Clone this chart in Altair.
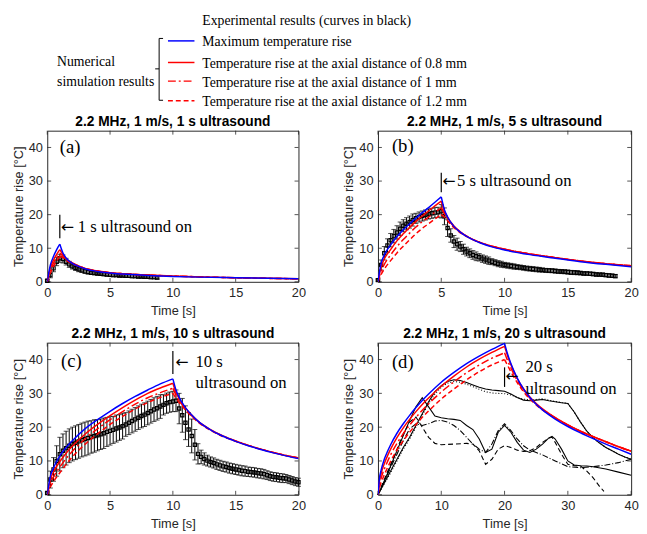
import altair as alt
import pandas as pd

SANS = "Liberation Sans"
SERIF = "Liberation Serif"
ARROWFONT = "DejaVu Sans"
AX = "#262626"

# ---------------- legend ----------------
LEG_LABELS = ["Experimental results (curves in black)", "Maximum temperature rise",
              "Temperature rise at the axial distance of 0.8 mm",
              "Temperature rise at the axial distance of 1 mm",
              "Temperature rise at the axial distance of 1.2 mm"]
GROUP_LABELS = ["Numerical", "simulation results"]

SIM_COLORS = ["#0000ff", "#ff0000", "#ff0000", "#ff0000"]
SIM_DASH = [None, None, [8, 3, 2, 3], [5, 3]]

# ---------------- panel (a): 1 s ----------------
a_sim_t = [0, 0.25, 0.5, 0.75, 1, 1.25, 1.5, 2, 2.5, 3, 4, 5, 6, 8, 10, 12, 15, 20]
a_peak = 4
a_max = [0, 5, 7.6, 9.6, 11.2, 8.6, 7.1, 5.5, 4.6, 3.9, 3.1, 2.6, 2.3, 1.9, 1.6, 1.4, 1.2, 0.9]
a_08 = [0, 4.2, 6.5, 8.2, 9.6, 8.1, 6.9, 5.6, 4.7, 4.0, 3.2, 2.7, 2.4, 2.0, 1.7, 1.5, 1.2, 0.9]
a_10 = [0, 3.4, 5.6, 7.2, 8.6, 7.7, 6.7, 5.5, 4.7, 4.0, 3.2, 2.7, 2.4, 2.0, 1.7, 1.5, 1.2, 0.9]
a_12 = [0, 2.6, 4.6, 6.2, 7.6, 7.2, 6.4, 5.4, 4.6, 4.0, 3.2, 2.7, 2.4, 2.0, 1.7, 1.5, 1.2, 0.9]
a_exp_v = [0.3, 2, 4, 6, 7, 6.8, 6, 5.2, 4.6, 4.1, 3.7, 3.4, 3.1, 2.9, 2.7, 2.6, 2.5, 2.4,
           2.3, 2.2, 2.1, 2.0, 2.0, 1.9, 1.9, 1.8, 1.8, 1.7, 1.7, 1.6, 1.6, 1.5, 1.5, 1.4, 1.4, 1.3]
a_exp_e = [0.3, 0.8, 1, 1.2, 1.2, 1.2, 1, 0.9, 0.8, 0.7, 0.7, 0.6, 0.6, 0.6, 0.5, 0.5, 0.5, 0.5,
           0.5, 0.5, 0.5, 0.5, 0.5, 0.5, 0.5, 0.5, 0.5, 0.5, 0.5, 0.5, 0.5, 0.5, 0.5, 0.5, 0.5, 0.5]

# ---------------- panel (b): 5 s ----------------
b_sim_t = [0, 0.25, 0.5, 1, 1.5, 2, 2.5, 3, 3.5, 4, 4.5, 5, 5.25, 5.5, 6, 6.5, 7, 8, 9, 10, 12, 14, 16, 18, 20]
b_peak = 11
b_max = [0, 5.5, 8, 11, 13.5, 15.5, 17.3, 19, 20.6, 22.1, 23.7, 25.3, 21.5, 19.3, 16.5, 14.8, 13.5, 11.7, 10.4, 9.5, 8.1, 7.0, 6.0, 5.2, 4.5]
b_08 = [0, 4.5, 6.8, 9.6, 12.2, 14.3, 16.2, 18.0, 19.6, 21.1, 22.6, 24.0, 21.0, 19.2, 16.6, 14.9, 13.6, 11.8, 10.6, 9.7, 8.3, 7.2, 6.2, 5.4, 4.8]
b_10 = [0, 3.2, 5.2, 8.0, 10.5, 12.6, 14.5, 16.3, 17.9, 19.3, 20.7, 22.0, 20.2, 18.8, 16.4, 14.8, 13.6, 11.8, 10.6, 9.7, 8.3, 7.2, 6.2, 5.4, 4.8]
b_12 = [0, 2.2, 3.8, 6.3, 8.6, 10.6, 12.5, 14.3, 15.9, 17.3, 18.7, 20.0, 19.3, 18.2, 16.1, 14.6, 13.5, 11.8, 10.6, 9.7, 8.3, 7.2, 6.2, 5.4, 4.8]
b_exp_v = [0.5, 5, 8.5, 10.8, 12.4, 13.6, 14.7, 15.8, 16.7, 17.3, 17.8, 18.4, 18.9, 19.3, 19.6, 19.9,
           20.2, 20.4, 20.6, 20.7, 21, 19.5, 16, 13.8, 12, 11.2, 10.5, 9.7, 9, 8.5, 8, 7.6,
           7.3, 6.9, 6.6, 6.3, 6, 5.7, 5.4, 5.2, 5, 4.85, 4.7, 4.55, 4.4, 4.3, 4.15, 4.0,
           3.9, 3.8, 3.7, 3.6, 3.5, 3.4, 3.35, 3.3, 3.2, 3.1, 3.05, 3.0, 2.9, 2.8, 2.75, 2.7,
           2.6, 2.5, 2.45, 2.4, 2.3, 2.2, 2.15, 2.1, 2.0, 1.9, 1.8, 1.7]
b_exp_e = [0.3, 1.5, 2, 2, 2, 2, 2, 2, 1.8, 1.8, 1.8, 1.8, 1.5, 1.5, 1.5, 1.5,
           1.5, 1.5, 1.5, 1.5, 2, 2.5, 2.5, 2, 1.8, 1.8, 1.5, 1.5, 1.3, 1.3, 1.3, 1.3,
           1.1, 1.1, 1.1, 1.1, 0.9, 0.9, 0.9, 0.9, 0.8, 0.8, 0.8, 0.8, 0.7, 0.7, 0.7, 0.7,
           0.7, 0.7, 0.7, 0.7, 0.6, 0.6, 0.6, 0.6, 0.6, 0.6, 0.6, 0.6, 0.6, 0.6, 0.6, 0.6,
           0.5, 0.5, 0.5, 0.5, 0.5, 0.5, 0.5, 0.5, 0.5, 0.5, 0.5, 0.5]

# ---------------- panel (c): 10 s ----------------
c_sim_t = [0, 0.25, 0.5, 1, 1.5, 2, 3, 4, 5, 6, 7, 8, 9, 10, 10.25, 10.5, 11, 11.5, 12, 13, 14, 15, 16, 17, 18, 19, 20]
c_peak = 13
c_max = [0, 5.5, 8, 11.5, 14, 16, 19.5, 22.2, 24.7, 27, 29.1, 31, 32.8, 34.3, 31, 28.8, 25.8, 23.6, 21.8, 19.2, 17.3, 15.8, 14.5, 13.4, 12.4, 11.5, 10.7]
c_08 = [0, 4.5, 6.8, 9.8, 12.3, 14.4, 17.9, 20.8, 23.4, 25.8, 28, 30, 31.6, 33.0, 30.3, 28.4, 25.7, 23.6, 21.8, 19.3, 17.4, 15.9, 14.6, 13.5, 12.5, 11.6, 10.9]
c_10 = [0, 3.3, 5.3, 8.2, 10.7, 12.9, 16.5, 19.5, 22.2, 24.6, 26.8, 28.7, 30.2, 31.5, 29.5, 27.9, 25.4, 23.4, 21.7, 19.2, 17.3, 15.9, 14.6, 13.5, 12.5, 11.6, 10.9]
c_12 = [0, 2.3, 3.9, 6.5, 9.0, 11.2, 14.9, 18.0, 20.8, 23.2, 25.4, 27.3, 28.8, 30.0, 28.6, 27.3, 25.1, 23.2, 21.5, 19.1, 17.2, 15.8, 14.6, 13.5, 12.5, 11.6, 10.9]
c_exp_v = [0.5, 4.5, 7.5, 10, 12, 13, 13.8, 14.5, 15, 15.4, 15.8, 16.2, 16.5, 16.8, 17.1, 17.4,
           17.6, 17.9, 18.2, 18.6, 18.9, 19.2, 19.6, 19.9, 20.3, 20.8, 21.3, 21.8, 22.3, 22.8, 23.3, 23.7,
           24.2, 24.7, 25.2, 25.6, 26.1, 26.6, 27.1, 27.4, 27.6, 27.8, 25.5, 23.5, 21.3, 19.3, 17.4, 14.8,
           12.1, 11.2, 10.6, 10.1, 9.7, 9.4, 9.0, 8.7, 8.4, 8.2, 7.9, 7.7, 7.5, 7.3, 7.1, 7.0,
           6.8, 6.7, 6.6, 6.4, 6.3, 6.1, 5.8, 5.5, 5.3, 5.2, 5.0, 4.9, 4.8, 4.5, 4.2, 3.9, 3.7]
c_exp_e = [0.3, 2.5, 3.5, 4.5, 5, 5, 5, 5, 5, 5, 5, 5, 5, 5, 4.8, 4.8,
           4.6, 4.5, 4.5, 4.3, 4.2, 4, 4, 3.8, 3.8, 3.5, 3.5, 3.5, 3.5, 3.5, 3.5, 3.5,
           3.5, 3.5, 3.5, 3.5, 3.5, 3, 3, 3, 3, 3.2, 4.5, 5, 5, 5, 5, 4.5,
           3, 2, 1.8, 1.6, 1.5, 1.5, 1.5, 1.5, 1.5, 1.5, 1.5, 1.5, 1.5, 1.5, 1.5, 1.5,
           1.4, 1.4, 1.4, 1.4, 1.4, 1.4, 1.3, 1.3, 1.3, 1.3, 1.3, 1.3, 1.2, 1.2, 1.2, 1.2, 1.2]

# ---------------- panel (d): 20 s ----------------
d_sim_t = [0, 0.25, 0.5, 1, 1.5, 2, 3, 4, 5, 6, 7, 8, 10, 12, 14, 16, 18, 20, 20.5, 21, 22, 23, 24, 25, 26, 28, 30, 32, 34, 36, 38, 40]
d_peak = 17
d_max = [0, 5, 7.3, 10.5, 12.8, 14.8, 18.2, 21, 23.5, 25.8, 27.9, 29.8, 33.3, 36.2, 38.8, 41.0, 43.0, 44.8, 41.5, 38.8, 34.5, 31.3, 28.8, 26.8, 25.1, 22.4, 20.2, 18.3, 16.6, 15.0, 13.5, 12.0]
d_08 = [0, 4.2, 6.3, 9.2, 11.5, 13.5, 16.9, 19.8, 22.3, 24.6, 26.7, 28.6, 32.1, 35.1, 37.8, 40.1, 42.1, 43.9, 41.0, 38.5, 34.4, 31.3, 28.9, 27.0, 25.4, 22.8, 20.7, 18.8, 17.2, 15.7, 14.2, 12.9]
d_10 = [0, 3.1, 4.9, 7.6, 9.8, 11.8, 15.2, 18.1, 20.6, 22.9, 25.0, 26.9, 30.4, 33.4, 36.1, 38.4, 40.4, 42.0, 39.6, 37.5, 33.8, 30.9, 28.6, 26.8, 25.3, 22.8, 20.7, 18.8, 17.2, 15.7, 14.2, 12.9]
d_12 = [0, 2.2, 3.6, 5.9, 8.0, 9.9, 13.2, 16.0, 18.5, 20.8, 22.9, 24.8, 28.3, 31.3, 34.0, 36.4, 38.4, 40.0, 38.2, 36.4, 33.2, 30.5, 28.3, 26.6, 25.1, 22.7, 20.6, 18.8, 17.2, 15.7, 14.2, 12.9]

d1_t = list(range(0, 41))
d1_v = [0, 3.5, 7, 10.5, 14, 17, 20.5, 24, 27.5, 30.5, 32.3, 33.5, 34, 33.8, 33.2, 32.5, 31.8, 31.3, 31, 30.8,
        30.6, 29.8, 28.8, 28, 27.8, 28, 28.2, 27.8, 27.5, 27.2, 27, 24.5, 21.5, 18.8, 16.8, 15.3, 14, 13, 12, 11.2, 10.5]
d1b_v = [0, 3.2, 6.5, 10, 13.5, 16.5, 20, 23.5, 27, 29.8, 31.8, 33, 33.5, 33.3, 32.7, 32, 31.2, 30.5, 30.1, 30,
         29.9, 29.5, 28.8, 28.3, 28, 28.2, 28.4, 28, 27.6, 27.3, 27, 24.5, 21.5, 18.8, 16.8, 15.3, 14, 13, 12, 11.2, 10.5]
d2_t = [0, 1, 2, 3, 4, 5, 6, 7, 8, 9, 10, 11, 12, 13, 14, 15, 16, 17, 18, 19, 20, 21, 22, 23, 24, 25, 26, 27,
        27.5, 28, 29, 30, 31, 32, 33, 34, 36, 38, 40]
d2_v = [0, 4, 8.5, 13, 17.5, 22, 26, 28.7, 26, 23.3, 22.8, 22.5, 22.3, 22, 20.5, 19.3, 16.5, 12.5, 13.5, 18.5,
        20.5, 18.5, 15.5, 13.2, 12.5, 13.5, 15, 16.8, 17.3, 16.5, 13.5, 10, 8.8, 8.6, 8.5, 8.3, 7.6, 6.7, 5.8]
d3_t = [0, 1, 2, 3, 4, 5, 6, 7, 8, 9, 10, 12, 14, 15, 16, 17, 18, 19, 20, 21, 22, 23, 24, 25, 26, 27, 27.5,
        28, 29, 30, 31, 32, 33, 34, 35, 35.7]
d3_v = [0, 4.5, 9, 13.5, 18, 21.5, 23, 20, 17, 15.2, 14.8, 15, 15.2, 15, 13, 9, 10.5, 13.5, 14.5, 14, 13.2,
        12.8, 13, 14, 15.5, 16.8, 17, 15.5, 12, 9, 8.6, 8.5, 7, 5, 2.5, 1]
d4_t = [0, 1, 2, 3, 4, 5, 6, 7, 8, 9, 10, 11, 12, 13, 14, 15, 16, 17, 18, 19, 20, 21, 22, 23, 24, 25, 26,
        28, 30, 32, 34, 36, 38, 40]
d4_v = [0, 4, 8, 12, 16, 19.5, 21, 20.5, 21, 21.8, 22, 21.5, 20.5, 19, 17, 15, 13.5, 12.5, 15, 19, 21, 19,
        16.5, 14.5, 13.2, 12.5, 11.8, 10, 8.3, 8, 8.3, 8.8, 9.5, 10.5]

Y_TICKS = [0, 10, 20, 30, 40]


def one_row():
    return alt.Chart(pd.DataFrame({"k": [0]}))


def legend_layers():
    """Legend block drawn above panel (a), positioned in pixels relative to its plot area."""
    layers = []
    leg_y = [-112, -90, -68, -49, -29]
    for txt, yy in zip(LEG_LABELS, leg_y):
        layers.append(one_row().mark_text(align="left", baseline="middle", font=SERIF, fontSize=14,
                                          color="black").encode(
            x=alt.value(158), y=alt.value(yy), text=alt.value(txt)))
    for txt, yy in zip(GROUP_LABELS, [-70, -50]):
        layers.append(one_row().mark_text(align="left", baseline="middle", font=SERIF, fontSize=14,
                                          color="black").encode(
            x=alt.value(10), y=alt.value(yy), text=alt.value(txt)))
    for yy, col, dash in zip(leg_y[1:], SIM_COLORS, SIM_DASH):
        mk = dict(color=col, strokeWidth=1.5)
        if dash is not None:
            mk["strokeDash"] = dash
        layers.append(one_row().mark_rule(**mk).encode(
            x=alt.value(123), x2=alt.value(150), y=alt.value(yy - 1.5), y2=alt.value(yy - 1.5)))
    for x1, x2, y1, y2 in [(114, 114, -94, -31), (114, 118, -94, -94), (114, 118, -31, -31),
                           (110, 114, -63, -63)]:
        layers.append(one_row().mark_rule(color="black", strokeWidth=1).encode(
            x=alt.value(x1), x2=alt.value(x2), y=alt.value(y1), y2=alt.value(y2)))
    return layers


def panel(title, xmax, xticks, sim_t, peak, sims, exp_v=None, exp_e=None, black=None,
          vline=None, arrow=None, texts=None, label=None, w=256, h=155, extra=None):
    xs = alt.Scale(domain=[0, xmax], nice=False)
    ys = alt.Scale(domain=[0, 45], nice=False)
    axx = alt.Axis(values=xticks, title="Time [s]")
    axy = alt.Axis(values=Y_TICKS, title="Temperature rise [°C]")

    def X(f="t"):
        return alt.X(f"{f}:Q", scale=xs, axis=axx)

    def Y(f="v"):
        return alt.Y(f"{f}:Q", scale=ys, axis=axy)

    layers = []
    # inner ticks (MATLAB box style)
    xt = pd.DataFrame({"t": xticks})
    yt = pd.DataFrame({"v": Y_TICKS})
    layers.append(alt.Chart(xt).mark_rule(color=AX, strokeWidth=0.8).encode(
        x=X(), y=alt.value(h), y2=alt.value(h - 4)))
    layers.append(alt.Chart(xt).mark_rule(color=AX, strokeWidth=0.8).encode(
        x=X(), y=alt.value(0), y2=alt.value(4)))
    layers.append(alt.Chart(yt).mark_rule(color=AX, strokeWidth=0.8).encode(
        y=Y(), x=alt.value(0), x2=alt.value(4)))
    layers.append(alt.Chart(yt).mark_rule(color=AX, strokeWidth=0.8).encode(
        y=Y(), x=alt.value(w), x2=alt.value(w - 4)))

    # experimental data with error bars
    if exp_v is not None:
        t = [round(0.25 * i, 2) for i in range(len(exp_v))]
        edf = pd.DataFrame({"t": t, "v": exp_v, "e": exp_e})
        edf["lo"] = (edf["v"] - edf["e"]).clip(lower=0)
        edf["hi"] = edf["v"] + edf["e"]
        base = alt.Chart(edf)
        layers.append(base.mark_rule(color="black", strokeWidth=1).encode(
            x=X(), y=Y("lo"), y2="hi:Q"))
        layers.append(base.mark_tick(color="black", thickness=1, size=5, orient="horizontal").encode(
            x=X(), y=Y("lo")))
        layers.append(base.mark_tick(color="black", thickness=1, size=5, orient="horizontal").encode(
            x=X(), y=Y("hi")))
        layers.append(base.mark_point(shape="square", size=11, filled=False, color="black",
                                      opacity=1, strokeWidth=1.2).encode(x=X(), y=Y()))

    # experimental individual curves (black)
    if black is not None:
        for bt, bv, dash in black:
            mk = dict(color="black", strokeWidth=1.1)
            if dash is not None:
                mk["strokeDash"] = dash
            layers.append(alt.Chart(pd.DataFrame({"t": bt, "v": bv})).mark_line(**mk).encode(
                x=X(), y=Y()))

    # simulation curves (heating and cooling segments meet at a sharp peak)
    for vals, col, dash in reversed(list(zip(sims, SIM_COLORS, SIM_DASH))):
        rows = []
        for i, (tt, vv) in enumerate(zip(sim_t, vals)):
            if i <= peak:
                rows.append({"t": tt, "v": vv, "seg": "heat"})
            if i >= peak:
                rows.append({"t": tt, "v": vv, "seg": "cool"})
        mk = dict(color=col, strokeWidth=1.5, interpolate="monotone", clip=True)
        if dash is not None:
            mk["strokeDash"] = dash
        layers.append(alt.Chart(pd.DataFrame(rows)).mark_line(**mk).encode(
            x=X(), y=Y(), detail="seg:N"))

    # annotation
    if vline is not None:
        vdf = pd.DataFrame({"t": [vline[0]], "v": [vline[1]], "v2": [vline[2]]})
        layers.append(alt.Chart(vdf).mark_rule(color="black", strokeWidth=1.2).encode(
            x=X(), y=Y(), y2="v2:Q"))
    if arrow is not None:
        adf = pd.DataFrame({"t": [arrow[0]], "v": [arrow[1]], "txt": ["←"]})
        layers.append(alt.Chart(adf).mark_text(align="left", baseline="middle", font=ARROWFONT,
                                               fontSize=16, color="black").encode(
            x=X(), y=Y(), text="txt:N"))
    if texts is not None:
        tdf = pd.DataFrame({"t": [p[0] for p in texts], "v": [p[1] for p in texts],
                            "txt": [p[2] for p in texts]})
        layers.append(alt.Chart(tdf).mark_text(align="left", baseline="middle", font=SERIF,
                                               fontSize=17, color="black").encode(
            x=X(), y=Y(), text="txt:N"))
    if label is not None:
        ldf = pd.DataFrame({"t": [label[0]], "v": [label[1]], "txt": [label[2]]})
        layers.append(alt.Chart(ldf).mark_text(align="left", baseline="middle", font=SERIF,
                                               fontSize=19, color="black").encode(
            x=X(), y=Y(), text="txt:N"))
    # panel title (drawn as text so that the legend above panel (a) does not move it)
    layers.append(one_row().mark_text(align="center", baseline="middle", font=SANS, fontSize=14,
                                      fontWeight="bold", color="black").encode(
        x=alt.value(w / 2), y=alt.value(-9), text=alt.value(title)))
    if extra is not None:
        layers.extend(extra)

    return alt.layer(*layers).properties(
        width=w, height=h,
        view=alt.ViewBackground(stroke=AX, strokeWidth=1),
    )


pa = panel("2.2 MHz, 1 m/s, 1 s ultrasound", 20, [0, 5, 10, 15, 20], a_sim_t, a_peak,
           [a_max, a_08, a_10, a_12], exp_v=a_exp_v, exp_e=a_exp_e,
           vline=(1, 13, 20), arrow=(1.1, 16.4), texts=[(2.42, 16.4, "1 s ultrasound on")],
           label=(1.0, 40, "(a)"), w=256, h=154, extra=legend_layers())
pb = panel("2.2 MHz, 1 m/s, 5 s ultrasound", 20, [0, 5, 10, 15, 20], b_sim_t, b_peak,
           [b_max, b_08, b_10, b_12], exp_v=b_exp_v, exp_e=b_exp_e,
           vline=(5, 26.7, 32.5), arrow=(5.1, 29.9), texts=[(6.25, 29.9, "5 s ultrasound on")],
           label=(1.1, 40.3, "(b)"), w=258, h=154)
pc = panel("2.2 MHz, 1 m/s, 10 s ultrasound", 20, [0, 5, 10, 15, 20], c_sim_t, c_peak,
           [c_max, c_08, c_10, c_12], exp_v=c_exp_v, exp_e=c_exp_e,
           vline=(10, 35.7, 42.5), arrow=(10.2, 39.2),
           texts=[(11.8, 39.2, "10 s"), (11.8, 33.1, "ultrasound on")],
           label=(1.1, 39.5, "(c)"), w=256, h=155)
pdd = panel("2.2 MHz, 1 m/s, 20 s ultrasound", 40, [0, 10, 20, 30, 40], d_sim_t, d_peak,
            [d_max, d_08, d_10, d_12],
            black=[(d1_t, d1_v, None), (d1_t, d1b_v, [1, 2]), (d2_t, d2_v, None),
                   (d3_t, d3_v, [5, 3]), (d4_t, d4_v, [6, 2, 1, 2])],
            vline=(20, 31.9, 37.7), arrow=(20.15, 35.0),
            texts=[(23.3, 37.7, "20 s"), (23.3, 31.4, "ultrasound on")],
            label=(2.2, 39.2, "(d)"), w=258, h=155)

chart = alt.concat(pa, pb, pc, pdd, columns=2, spacing={"row": 62, "column": 81},
                   bounds="flush").properties(
    padding={"left": 4, "top": 0, "right": 0, "bottom": 0}
).configure_axis(
    labelFont=SANS, labelFontSize=13, labelColor=AX, titleFont=SANS, titleFontSize=13,
    titleColor=AX, titleFontWeight="normal", ticks=False, tickSize=0, domain=False,
    grid=False, labelFlush=False, labelPadding=5
).configure_axisY(titlePadding=3).configure_axisX(titlePadding=5)

chart.save("out.html", embed_options={"renderer": "svg", "actions": False})
